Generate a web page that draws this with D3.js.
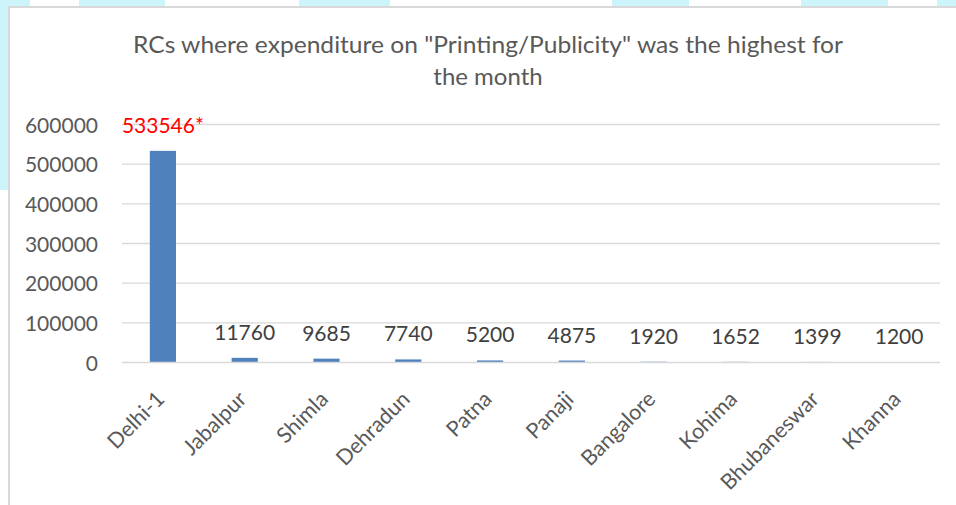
<!DOCTYPE html>
<html><head><meta charset="utf-8">
<script src="https://cdn.jsdelivr.net/npm/d3@7"></script>
<style>html,body{margin:0;padding:0;background:#fff;}svg{display:block;}</style>
</head><body>
<svg id="c" width="956" height="505"></svg>
<script>
const categories = ["Delhi-1","Jabalpur","Shimla","Dehradun","Patna","Panaji","Bangalore","Kohima","Bhubaneswar","Khanna"];
const values = [533546,11760,9685,7740,5200,4875,1920,1652,1399,1200];
const valueLabels = ["533546*","11760","9685","7740","5200","4875","1920","1652","1399","1200"];
const yTicks = [0,100000,200000,300000,400000,500000,600000];
const titleLines = ["RCs where expenditure on \"Printing/Publicity\" was the highest for","the month"];

const svg = d3.select("#c");
const FONT = "Lato, 'Open Sans', sans-serif";

// decorative background patches
const patchesTop = [[0,30],[79,165],[299,390],[612,689],[801,888],[937,956]];
svg.selectAll("rect.bgp").data(patchesTop).enter().append("rect")
  .attr("x",d=>d[0]).attr("y",0).attr("width",d=>d[1]-d[0]).attr("height",6).attr("fill","#cdf3fb");
svg.append("rect").attr("x",0).attr("y",0).attr("width",8).attr("height",190).attr("fill","#cdf3fb");

// chart area
svg.append("rect").attr("x",9).attr("y",7).attr("width",960).attr("height",510)
  .attr("fill","#fff").attr("stroke","#d9d9d9").attr("stroke-width",2);

const x = d3.scaleBand().domain(categories).range([122,940]).paddingInner(0.68).paddingOuter(0.34);
const y = d3.scaleLinear().domain([0,600000]).range([362.5,124.5]);

// gridlines
svg.append("g").selectAll("line").data(yTicks.filter(t=>t>0)).enter().append("line")
  .attr("x1",122).attr("x2",940).attr("y1",d=>y(d)).attr("y2",d=>y(d))
  .attr("stroke","#d9d9d9").attr("stroke-width",1.3);

// y axis labels
const yAxis = d3.axisLeft(y).tickValues(yTicks).tickSize(0).tickPadding(0).tickFormat(d=>String(d));
const gy = svg.append("g").attr("transform","translate(98,0)").call(yAxis);
gy.select(".domain").remove();
gy.selectAll("text").attr("font-family",FONT).attr("font-size",21).attr("fill","#595959").attr("dy","0.36em");

// bars
svg.append("g").selectAll("rect").data(values).enter().append("rect")
  .attr("x",(d,i)=>x(categories[i])).attr("width",x.bandwidth())
  .attr("y",d=>y(d)).attr("height",d=>y(0)-y(d)).attr("fill","#4f81bd");

// x axis baseline
svg.append("line").attr("x1",122).attr("x2",940).attr("y1",y(0)).attr("y2",y(0))
  .attr("stroke","#d9d9d9").attr("stroke-width",1.5);

// value labels
svg.append("g").selectAll("text").data(values).enter().append("text")
  .attr("x",(d,i)=>x(categories[i])+x.bandwidth()/2).attr("y",d=>y(d)-18)
  .attr("text-anchor","middle").attr("font-family",FONT).attr("font-size",21)
  .attr("fill",(d,i)=>i===0?"#ff0000":"#404040")
  .text((d,i)=>valueLabels[i]);

// x labels
const xAxis = d3.axisBottom(x).tickSize(0).tickPadding(0);
const gx = svg.append("g").attr("transform",`translate(0,${y(0)})`).call(xAxis);
gx.select(".domain").remove();
gx.selectAll(".tick text").attr("font-family",FONT).attr("font-size",21.5).attr("fill","#595959")
  .attr("text-anchor","end").attr("dy",null).attr("y",null)
  .attr("transform","translate(3,38) rotate(-45)");

// title
svg.append("g").selectAll("text").data(titleLines).enter().append("text")
  .attr("x",488).attr("y",(d,i)=>53+i*32).attr("text-anchor","middle")
  .attr("font-family",FONT).attr("font-size",24).attr("fill","#595959")
  .attr("textLength",(d,i)=>i===0?710:null).attr("lengthAdjust","spacingAndGlyphs")
  .text(d=>d);
</script>
</body></html>
